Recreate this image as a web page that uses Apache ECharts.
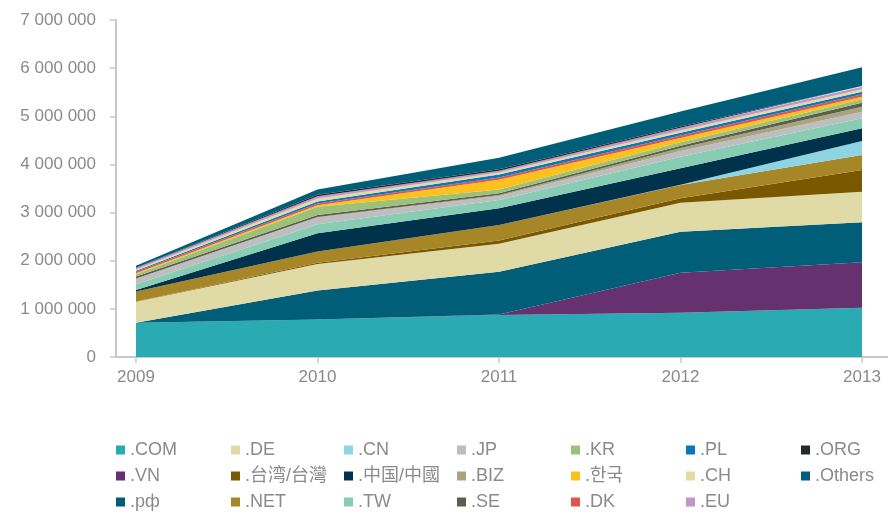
<!DOCTYPE html>
<html>
<head>
<meta charset="utf-8">
<script src="https://cdn.jsdelivr.net/npm/echarts@6/dist/echarts.min.js"></script>
<style>
  html, body { margin: 0; padding: 0; background: #fff; }
  #domainChart { width: 888px; height: 514px; }
</style>
</head>
<body>
<div id="domainChart"></div>
<script>
// years on the x axis
const years = ['2009', '2010', '2011', '2012', '2013']

// stacked bottom to top, values in domains
const com = [710000, 780000, 872000, 920000, 1024000]
const vn = [0, 0, 10000, 830000, 943000]
const rf = [0, 600000, 888000, 850000, 831000]
const de = [440000, 550000, 580000, 605000, 636000]
const tw1 = [5000, 30000, 70000, 90000, 450000]
const net = [205000, 230000, 320000, 280000, 312000]
const cn = [0, 0, 0, 5000, 291000]
const zhongguo = [30000, 380000, 350000, 340000, 264000]
const tw = [120000, 190000, 170000, 240000, 207000]
const jp = [120000, 140000, 85000, 120000, 138000]
const biz = [0, 10000, 20000, 60000, 103000]
const se = [40000, 40000, 35000, 50000, 84000]
const kr = [50000, 170000, 80000, 70000, 70000]
const hanguk = [20000, 30000, 200000, 90000, 54000]
const dk = [30000, 40000, 50000, 50000, 50000]
const pl = [20000, 40000, 60000, 60000, 54000]
const ch = [30000, 60000, 40000, 45000, 50000]
const eu = [30000, 50000, 40000, 55000, 54000]
const org = [5000, 30000, 30000, 30000, 14000]
const others = [40000, 110000, 240000, 310000, 389000]

const seriesList = [
  { name: '.COM', data: com, color: '#2aabb3' },
  { name: '.VN', data: vn, color: '#65316f' },
  { name: '.рф', data: rf, color: '#005e79' },
  { name: '.DE', data: de, color: '#dfdaa6' },
  { name: '.台湾/台灣', data: tw1, color: '#7a5800' },
  { name: '.NET', data: net, color: '#a68626' },
  { name: '.CN', data: cn, color: '#8dd5e2' },
  { name: '.中国/中國', data: zhongguo, color: '#00324b' },
  { name: '.TW', data: tw, color: '#87cdb3' },
  { name: '.JP', data: jp, color: '#bdbec0' },
  { name: '.BIZ', data: biz, color: '#a8a47e' },
  { name: '.SE', data: se, color: '#5f5d50' },
  { name: '.KR', data: kr, color: '#9bc17b' },
  { name: '.한국', data: hanguk, color: '#fdc11d' },
  { name: '.DK', data: dk, color: '#e1554f' },
  { name: '.PL', data: pl, color: '#0a78bb' },
  { name: '.CH', data: ch, color: '#e2dba1' },
  { name: '.EU', data: eu, color: '#c197c7' },
  { name: '.ORG', data: org, color: '#26292b' },
  { name: '.Others', data: others, color: '#005e79' }
]

// legend columns, read top to bottom
const legendColumns = [
  ['.COM', '.VN', '.рф'],
  ['.DE', '.台湾/台灣', '.NET'],
  ['.CN', '.中国/中國', '.TW'],
  ['.JP', '.BIZ', '.SE'],
  ['.KR', '.한국', '.DK'],
  ['.PL', '.CH', '.EU'],
  ['.ORG', '.Others']
]
const legendLeft = [116, 231, 344, 457, 571, 686, 801]

const fontFamily = "'Liberation Sans', 'Noto Sans CJK SC', sans-serif"
const gray = '#8a8a8a'

const drawChart = () => {
  let chart = echarts.init(document.getElementById('domainChart'))
  chart.setOption({
    animation: false,
    textStyle: { fontFamily: fontFamily },
    grid: [
      { left: 136, right: 26, top: 20, bottom: 157 },
      { left: 116, right: 0, top: 20, bottom: 157 } // only for the long x axis line
    ],
    legend: legendColumns.map((col, i) => {
      return {
        orient: 'vertical',
        left: legendLeft[i],
        top: 441,
        height: 80,
        padding: 0,
        icon: 'rect',
        itemWidth: 9,
        itemHeight: 9,
        itemGap: 8,
        data: col,
        textStyle: { color: gray, fontSize: 18, lineHeight: 18, fontFamily: fontFamily }
      }
    }),
    xAxis: [
      {
        type: 'category',
        boundaryGap: false,
        data: years,
        axisLine: { show: false },
        axisTick: { show: true, length: 6, lineStyle: { color: '#c8c8c8', width: 1.5 } },
        axisLabel: { color: gray, fontSize: 17, margin: 12 }
      },
      {
        type: 'value',
        gridIndex: 1,
        min: 0,
        max: 1,
        axisLine: { show: true, lineStyle: { color: '#c8c8c8', width: 2 } },
        axisTick: { show: false },
        axisLabel: { show: false },
        splitLine: { show: false }
      }
    ],
    yAxis: [
      {
        type: 'value',
        min: 0,
        max: 7000000,
        interval: 1000000,
        offset: 20,
        axisLine: { show: true, lineStyle: { color: '#c8c8c8', width: 2 } },
        axisTick: { show: true, length: 6, lineStyle: { color: '#c8c8c8', width: 1.5 } },
        splitLine: { show: false },
        axisLabel: {
          color: gray,
          fontSize: 17,
          margin: 20,
          formatter: (v) => String(v).replace(/\B(?=(\d{3})+(?!\d))/g, ' ')
        }
      },
      { type: 'value', gridIndex: 1, show: false }
    ],
    series: seriesList.map((item) => {
      return {
        name: item.name,
        type: 'line',
        stack: 'total',
        data: item.data,
        color: item.color,
        showSymbol: false,
        lineStyle: { width: 0 },
        areaStyle: { color: item.color, opacity: 1 }
      }
    })
  })
}
drawChart()
</script>
</body>
</html>
